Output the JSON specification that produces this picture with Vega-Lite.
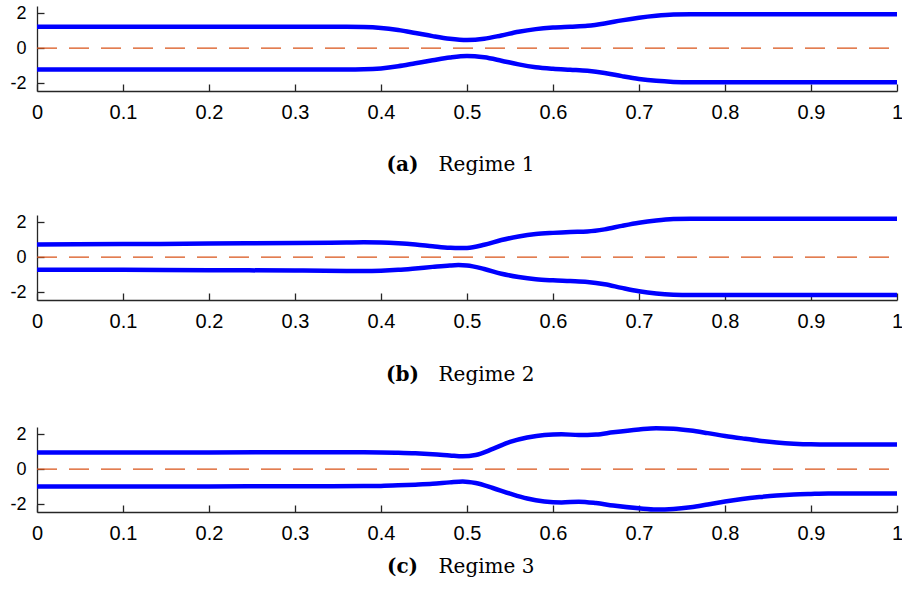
{
  "$schema": "https://vega.github.io/schema/vega-lite/v6.json",
  "background": "white",
  "padding": {"left": 9, "top": 4, "right": 4, "bottom": 4},
  "spacing": 35,
  "config": {
    "view": {"stroke": null},
    "axis": {
      "grid": false,
      "labelFont": "Liberation Sans",
      "labelFontSize": 20,
      "labelColor": "#000000",
      "domainColor": "#262626",
      "domainWidth": 1.3,
      "tickColor": "#262626",
      "tickWidth": 1.3,
      "tickSize": -7,
      "labelPadding": 18,
      "titleFont": "DejaVu Serif",
      "titleFontSize": 20,
      "titleColor": "#000000",
      "titleBaseline": "alphabetic",
      "titleAlign": "center"
    },
    "axisY": {"labelFontSize": 18}
  },
  "datasets": {
    "zero": [{"x": 0, "y": 0}, {"x": 1, "y": 0}],
    "a": [
      {"s": "u", "x": 0, "y": 1.21}, {"s": "u", "x": 0.1, "y": 1.21}, {"s": "u", "x": 0.2, "y": 1.21}, {"s": "u", "x": 0.3, "y": 1.21}, {"s": "u", "x": 0.36, "y": 1.21}, {"s": "u", "x": 0.38, "y": 1.2}, {"s": "u", "x": 0.4, "y": 1.15}, {"s": "u", "x": 0.42, "y": 1.03}, {"s": "u", "x": 0.44, "y": 0.86}, {"s": "u", "x": 0.46, "y": 0.68}, {"s": "u", "x": 0.48, "y": 0.53}, {"s": "u", "x": 0.5, "y": 0.46}, {"s": "u", "x": 0.52, "y": 0.53}, {"s": "u", "x": 0.54, "y": 0.72}, {"s": "u", "x": 0.56, "y": 0.93}, {"s": "u", "x": 0.58, "y": 1.08}, {"s": "u", "x": 0.6, "y": 1.17}, {"s": "u", "x": 0.62, "y": 1.22}, {"s": "u", "x": 0.64, "y": 1.27}, {"s": "u", "x": 0.66, "y": 1.4}, {"s": "u", "x": 0.68, "y": 1.58}, {"s": "u", "x": 0.7, "y": 1.73}, {"s": "u", "x": 0.72, "y": 1.84}, {"s": "u", "x": 0.74, "y": 1.91}, {"s": "u", "x": 0.76, "y": 1.93}, {"s": "u", "x": 0.8, "y": 1.93}, {"s": "u", "x": 0.9, "y": 1.93}, {"s": "u", "x": 1, "y": 1.93},
      {"s": "l", "x": 0, "y": -1.22}, {"s": "l", "x": 0.1, "y": -1.22}, {"s": "l", "x": 0.2, "y": -1.22}, {"s": "l", "x": 0.3, "y": -1.22}, {"s": "l", "x": 0.36, "y": -1.22}, {"s": "l", "x": 0.38, "y": -1.21}, {"s": "l", "x": 0.4, "y": -1.16}, {"s": "l", "x": 0.42, "y": -1.04}, {"s": "l", "x": 0.44, "y": -0.87}, {"s": "l", "x": 0.46, "y": -0.7}, {"s": "l", "x": 0.48, "y": -0.54}, {"s": "l", "x": 0.5, "y": -0.45}, {"s": "l", "x": 0.52, "y": -0.53}, {"s": "l", "x": 0.54, "y": -0.72}, {"s": "l", "x": 0.56, "y": -0.93}, {"s": "l", "x": 0.58, "y": -1.09}, {"s": "l", "x": 0.6, "y": -1.18}, {"s": "l", "x": 0.62, "y": -1.24}, {"s": "l", "x": 0.64, "y": -1.3}, {"s": "l", "x": 0.66, "y": -1.42}, {"s": "l", "x": 0.68, "y": -1.6}, {"s": "l", "x": 0.7, "y": -1.76}, {"s": "l", "x": 0.72, "y": -1.87}, {"s": "l", "x": 0.74, "y": -1.93}, {"s": "l", "x": 0.76, "y": -1.95}, {"s": "l", "x": 0.8, "y": -1.95}, {"s": "l", "x": 0.9, "y": -1.95}, {"s": "l", "x": 1, "y": -1.95}
    ],
    "b": [
      {"s": "u", "x": 0, "y": 0.72}, {"s": "u", "x": 0.1, "y": 0.74}, {"s": "u", "x": 0.2, "y": 0.77}, {"s": "u", "x": 0.3, "y": 0.8}, {"s": "u", "x": 0.36, "y": 0.83}, {"s": "u", "x": 0.38, "y": 0.84}, {"s": "u", "x": 0.4, "y": 0.83}, {"s": "u", "x": 0.42, "y": 0.79}, {"s": "u", "x": 0.44, "y": 0.72}, {"s": "u", "x": 0.46, "y": 0.62}, {"s": "u", "x": 0.48, "y": 0.53}, {"s": "u", "x": 0.49, "y": 0.51}, {"s": "u", "x": 0.5, "y": 0.52}, {"s": "u", "x": 0.52, "y": 0.7}, {"s": "u", "x": 0.54, "y": 0.97}, {"s": "u", "x": 0.56, "y": 1.17}, {"s": "u", "x": 0.58, "y": 1.31}, {"s": "u", "x": 0.6, "y": 1.38}, {"s": "u", "x": 0.62, "y": 1.43}, {"s": "u", "x": 0.64, "y": 1.46}, {"s": "u", "x": 0.66, "y": 1.58}, {"s": "u", "x": 0.68, "y": 1.78}, {"s": "u", "x": 0.7, "y": 1.96}, {"s": "u", "x": 0.72, "y": 2.09}, {"s": "u", "x": 0.74, "y": 2.17}, {"s": "u", "x": 0.76, "y": 2.19}, {"s": "u", "x": 0.8, "y": 2.19}, {"s": "u", "x": 0.9, "y": 2.19}, {"s": "u", "x": 1, "y": 2.19},
      {"s": "l", "x": 0, "y": -0.72}, {"s": "l", "x": 0.1, "y": -0.73}, {"s": "l", "x": 0.2, "y": -0.75}, {"s": "l", "x": 0.3, "y": -0.77}, {"s": "l", "x": 0.36, "y": -0.79}, {"s": "l", "x": 0.38, "y": -0.8}, {"s": "l", "x": 0.4, "y": -0.78}, {"s": "l", "x": 0.42, "y": -0.73}, {"s": "l", "x": 0.44, "y": -0.65}, {"s": "l", "x": 0.46, "y": -0.56}, {"s": "l", "x": 0.48, "y": -0.48}, {"s": "l", "x": 0.49, "y": -0.46}, {"s": "l", "x": 0.5, "y": -0.48}, {"s": "l", "x": 0.52, "y": -0.68}, {"s": "l", "x": 0.54, "y": -0.95}, {"s": "l", "x": 0.56, "y": -1.14}, {"s": "l", "x": 0.58, "y": -1.27}, {"s": "l", "x": 0.6, "y": -1.33}, {"s": "l", "x": 0.62, "y": -1.37}, {"s": "l", "x": 0.64, "y": -1.42}, {"s": "l", "x": 0.66, "y": -1.55}, {"s": "l", "x": 0.68, "y": -1.76}, {"s": "l", "x": 0.7, "y": -1.95}, {"s": "l", "x": 0.72, "y": -2.08}, {"s": "l", "x": 0.74, "y": -2.15}, {"s": "l", "x": 0.76, "y": -2.17}, {"s": "l", "x": 0.8, "y": -2.17}, {"s": "l", "x": 0.9, "y": -2.17}, {"s": "l", "x": 1, "y": -2.17}
    ],
    "c": [
      {"s": "u", "x": 0, "y": 0.94}, {"s": "u", "x": 0.1, "y": 0.94}, {"s": "u", "x": 0.2, "y": 0.95}, {"s": "u", "x": 0.3, "y": 0.96}, {"s": "u", "x": 0.38, "y": 0.96}, {"s": "u", "x": 0.4, "y": 0.95}, {"s": "u", "x": 0.42, "y": 0.93}, {"s": "u", "x": 0.44, "y": 0.9}, {"s": "u", "x": 0.46, "y": 0.85}, {"s": "u", "x": 0.48, "y": 0.78}, {"s": "u", "x": 0.495, "y": 0.73}, {"s": "u", "x": 0.51, "y": 0.8}, {"s": "u", "x": 0.53, "y": 1.15}, {"s": "u", "x": 0.55, "y": 1.55}, {"s": "u", "x": 0.57, "y": 1.8}, {"s": "u", "x": 0.59, "y": 1.95}, {"s": "u", "x": 0.61, "y": 1.99}, {"s": "u", "x": 0.63, "y": 1.94}, {"s": "u", "x": 0.65, "y": 1.97}, {"s": "u", "x": 0.67, "y": 2.1}, {"s": "u", "x": 0.7, "y": 2.26}, {"s": "u", "x": 0.72, "y": 2.33}, {"s": "u", "x": 0.74, "y": 2.3}, {"s": "u", "x": 0.76, "y": 2.2}, {"s": "u", "x": 0.78, "y": 2.05}, {"s": "u", "x": 0.8, "y": 1.89}, {"s": "u", "x": 0.82, "y": 1.75}, {"s": "u", "x": 0.84, "y": 1.62}, {"s": "u", "x": 0.86, "y": 1.52}, {"s": "u", "x": 0.88, "y": 1.45}, {"s": "u", "x": 0.9, "y": 1.41}, {"s": "u", "x": 0.92, "y": 1.4}, {"s": "u", "x": 1, "y": 1.4},
      {"s": "l", "x": 0, "y": -0.99}, {"s": "l", "x": 0.1, "y": -0.99}, {"s": "l", "x": 0.2, "y": -0.99}, {"s": "l", "x": 0.3, "y": -0.98}, {"s": "l", "x": 0.38, "y": -0.97}, {"s": "l", "x": 0.4, "y": -0.96}, {"s": "l", "x": 0.42, "y": -0.93}, {"s": "l", "x": 0.44, "y": -0.89}, {"s": "l", "x": 0.46, "y": -0.84}, {"s": "l", "x": 0.48, "y": -0.76}, {"s": "l", "x": 0.495, "y": -0.71}, {"s": "l", "x": 0.51, "y": -0.8}, {"s": "l", "x": 0.53, "y": -1.08}, {"s": "l", "x": 0.55, "y": -1.4}, {"s": "l", "x": 0.57, "y": -1.68}, {"s": "l", "x": 0.59, "y": -1.85}, {"s": "l", "x": 0.61, "y": -1.91}, {"s": "l", "x": 0.63, "y": -1.86}, {"s": "l", "x": 0.65, "y": -1.94}, {"s": "l", "x": 0.67, "y": -2.08}, {"s": "l", "x": 0.7, "y": -2.24}, {"s": "l", "x": 0.72, "y": -2.31}, {"s": "l", "x": 0.74, "y": -2.28}, {"s": "l", "x": 0.76, "y": -2.18}, {"s": "l", "x": 0.78, "y": -2.02}, {"s": "l", "x": 0.8, "y": -1.85}, {"s": "l", "x": 0.82, "y": -1.71}, {"s": "l", "x": 0.84, "y": -1.6}, {"s": "l", "x": 0.86, "y": -1.51}, {"s": "l", "x": 0.88, "y": -1.45}, {"s": "l", "x": 0.9, "y": -1.42}, {"s": "l", "x": 0.92, "y": -1.4}, {"s": "l", "x": 1, "y": -1.4}
    ]
  },
  "vconcat": [
    {
      "width": 860, "height": 85,
      "layer": [
        {
          "data": {"name": "zero"},
          "mark": {"type": "line", "color": "#D95319", "strokeWidth": 1.3, "strokeDash": [20, 12]},
          "encoding": {
            "x": {"field": "x", "type": "quantitative", "axis": {"orient": "bottom", "domain": false, "ticks": false, "labels": false, "title": "(a)", "titleFontWeight": "bold", "titleX": 365, "titleY": 79}},
            "y": {"field": "y", "type": "quantitative"}
          }
        },
        {
          "data": {"name": "a"},
          "mark": {"type": "line", "color": "#0000FF", "strokeWidth": 4.5, "interpolate": "monotone"},
          "encoding": {
            "x": {"field": "x", "type": "quantitative", "scale": {"domain": [0, 1], "nice": false}, "axis": {"orient": "bottom", "values": [0, 0.1, 0.2, 0.3, 0.4, 0.5, 0.6, 0.7, 0.8, 0.9, 1], "format": "~g", "labelFlush": false, "title": "Regime 1", "titleFontWeight": "normal", "titleX": 449, "titleY": 79}},
            "y": {"field": "y", "type": "quantitative", "scale": {"domain": [-2.45, 2.4], "nice": false}, "axis": {"values": [-2, 0, 2], "labelExpr": "datum.value < 0 ? '-' + abs(datum.value) : '' + datum.value", "title": null}},
            "detail": {"field": "s"}
          }
        }
      ],
      "resolve": {"axis": {"x": "independent"}}
    },
    {
      "width": 860, "height": 85,
      "layer": [
        {
          "data": {"name": "zero"},
          "mark": {"type": "line", "color": "#D95319", "strokeWidth": 1.3, "strokeDash": [20, 12]},
          "encoding": {
            "x": {"field": "x", "type": "quantitative", "axis": {"orient": "bottom", "domain": false, "ticks": false, "labels": false, "title": "(b)", "titleFontWeight": "bold", "titleX": 365, "titleY": 80}},
            "y": {"field": "y", "type": "quantitative"}
          }
        },
        {
          "data": {"name": "b"},
          "mark": {"type": "line", "color": "#0000FF", "strokeWidth": 4.5, "interpolate": "monotone"},
          "encoding": {
            "x": {"field": "x", "type": "quantitative", "scale": {"domain": [0, 1], "nice": false}, "axis": {"orient": "bottom", "values": [0, 0.1, 0.2, 0.3, 0.4, 0.5, 0.6, 0.7, 0.8, 0.9, 1], "format": "~g", "labelFlush": false, "title": "Regime 2", "titleFontWeight": "normal", "titleX": 449, "titleY": 80}},
            "y": {"field": "y", "type": "quantitative", "scale": {"domain": [-2.45, 2.4], "nice": false}, "axis": {"values": [-2, 0, 2], "labelExpr": "datum.value < 0 ? '-' + abs(datum.value) : '' + datum.value", "title": null}},
            "detail": {"field": "s"}
          }
        }
      ],
      "resolve": {"axis": {"x": "independent"}}
    },
    {
      "width": 860, "height": 85,
      "layer": [
        {
          "data": {"name": "zero"},
          "mark": {"type": "line", "color": "#D95319", "strokeWidth": 1.3, "strokeDash": [20, 12]},
          "encoding": {
            "x": {"field": "x", "type": "quantitative", "axis": {"orient": "bottom", "domain": false, "ticks": false, "labels": false, "title": "(c)", "titleFontWeight": "bold", "titleX": 365, "titleY": 60}},
            "y": {"field": "y", "type": "quantitative"}
          }
        },
        {
          "data": {"name": "c"},
          "mark": {"type": "line", "color": "#0000FF", "strokeWidth": 4.5, "interpolate": "monotone"},
          "encoding": {
            "x": {"field": "x", "type": "quantitative", "scale": {"domain": [0, 1], "nice": false}, "axis": {"orient": "bottom", "values": [0, 0.1, 0.2, 0.3, 0.4, 0.5, 0.6, 0.7, 0.8, 0.9, 1], "format": "~g", "labelFlush": false, "title": "Regime 3", "titleFontWeight": "normal", "titleX": 449, "titleY": 60}},
            "y": {"field": "y", "type": "quantitative", "scale": {"domain": [-2.45, 2.4], "nice": false}, "axis": {"values": [-2, 0, 2], "labelExpr": "datum.value < 0 ? '-' + abs(datum.value) : '' + datum.value", "title": null}},
            "detail": {"field": "s"}
          }
        }
      ],
      "resolve": {"axis": {"x": "independent"}}
    }
  ]
}
